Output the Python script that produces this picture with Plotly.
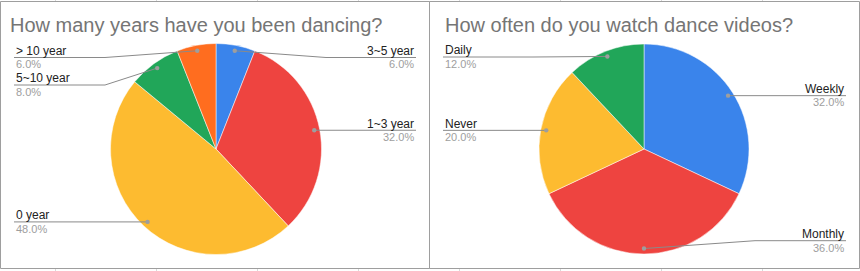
import math
import plotly.graph_objects as go

# ---------------- data ----------------
years_labels = ["3~5 year", "1~3 year", "0 year", "5~10 year", "> 10 year"]
years_values = [6, 32, 48, 8, 6]
years_title = "How many years have you been dancing?"

watch_labels = ["Weekly", "Monthly", "Never", "Daily"]
watch_values = [32, 36, 20, 12]
watch_title = "How often do you watch dance videos?"

colors_years = ["#3A84EB", "#EE4440", "#FDBB30", "#21A659", "#FF6D1F"]
colors_watch = ["#3A84EB", "#EE4440", "#FDBB30", "#21A659"]

# ---------------- layout constants (pixels) ----------------
W, H = 860, 271
FONT = "Liberation Sans, Arial, sans-serif"


def px(x):
    return x / W


def py(y):
    return 1 - y / H


# pie geometry: centre x, centre y, radius
pies = [
    dict(cx=216, cy=149, r=105.5, labels=years_labels, values=years_values,
         colors=colors_years, title=years_title, title_x=8,
         left_x=14, right_x=416,
         # per slice: side, y of horizontal leader, elbow x (None = straight)
         leaders=[("R", 57.5, 326), ("R", None, None), ("L", None, None),
                  ("L", 85, 105), ("L", 57.5, 105)]),
    dict(cx=644, cy=149, r=105, labels=watch_labels, values=watch_values,
         colors=colors_watch, title=watch_title, title_x=443,
         left_x=443, right_x=846,
         leaders=[("R", None, None), ("R", 240.7, 755), ("L", None, None),
                  ("L", 57, 533)]),
]

fig = go.Figure()
shapes = []
annotations = []

LINE_COL = "#8a8a8a"
DOT_COL = "#9e9e9e"

for p in pies:
    cx, cy, r = p["cx"], p["cy"], p["r"]
    fig.add_trace(go.Pie(
        labels=p["labels"], values=p["values"], sort=False,
        direction="clockwise", rotation=0,
        marker=dict(colors=p["colors"], line=dict(color="white", width=0.5)),
        textinfo="none", showlegend=False,
        domain=dict(x=[px(cx - r), px(cx + r)], y=[py(cy + r), py(cy - r)]),
    ))
    total = sum(p["values"])
    cum = 0
    for lab, val, (side, ly, ex) in zip(p["labels"], p["values"], p["leaders"]):
        mid = (cum + val / 2) / total * 2 * math.pi
        cum += val
        dr = 0.948 * r
        dx = cx + dr * math.sin(mid)
        dy = cy - dr * math.cos(mid)
        if ly is None:
            ly = dy
        end_x = p["right_x"] if side == "R" else p["left_x"]
        if ex is not None:
            shapes.append(dict(type="line", xref="paper", yref="paper",
                               x0=px(dx), y0=py(dy), x1=px(ex), y1=py(ly),
                               line=dict(color=LINE_COL, width=1)))
            start = ex
        else:
            start = dx
        shapes.append(dict(type="line", xref="paper", yref="paper",
                           x0=px(start), y0=py(ly), x1=px(end_x), y1=py(ly),
                           line=dict(color=LINE_COL, width=1)))
        shapes.append(dict(type="circle", xref="paper", yref="paper",
                           x0=px(dx - 2.2), x1=px(dx + 2.2),
                           y0=py(dy + 2.2), y1=py(dy - 2.2),
                           fillcolor=DOT_COL, line=dict(width=0)))
        xa = "right" if side == "R" else "left"
        annotations.append(dict(xref="paper", yref="paper", x=px(end_x),
                                y=py(ly - 6.6), xanchor=xa, yanchor="middle",
                                text=lab, showarrow=False,
                                font=dict(family=FONT, size=12, color="#222222")))
        annotations.append(dict(xref="paper", yref="paper", x=px(end_x),
                                y=py(ly + 6.8), xanchor=xa, yanchor="middle",
                                text=f"{val / total * 100:.1f}%", showarrow=False,
                                font=dict(family=FONT, size=11, color="#9e9e9e")))
    annotations.append(dict(xref="paper", yref="paper", x=px(p["title_x"]),
                            y=py(24.5), xanchor="left", yanchor="middle",
                            text=p["title"], showarrow=False,
                            font=dict(family=FONT, size=20, color="#757575")))

# panel borders
for x0, x1 in [(0.5, 429.5), (429.5, 859.5)]:
    shapes.append(dict(type="rect", xref="paper", yref="paper",
                       x0=px(x0), x1=px(x1), y0=py(268.5), y1=py(1.5),
                       line=dict(color="#9e9e9e", width=1), layer="above"))

# faint spreadsheet grid ticks outside the panels
for gx in [55, 156, 257, 358, 459, 560, 661, 762]:
    shapes.append(dict(type="line", xref="paper", yref="paper",
                       x0=px(gx + 0.5), x1=px(gx + 0.5), y0=py(0), y1=py(1),
                       line=dict(color="#d9d9d9", width=1)))
    shapes.append(dict(type="line", xref="paper", yref="paper",
                       x0=px(gx + 0.5), x1=px(gx + 0.5), y0=py(269), y1=py(271),
                       line=dict(color="#d9d9d9", width=1)))

fig.update_layout(
    width=W, height=H, autosize=False,
    margin=dict(l=0, r=0, t=0, b=0),
    paper_bgcolor="white", plot_bgcolor="white",
    shapes=shapes, annotations=annotations,
    font=dict(family=FONT),
)

fig.write_html(
    "out.html",
    config={"displayModeBar": False},
    post_script="document.body.style.margin='0';document.body.style.padding='0';",
)
